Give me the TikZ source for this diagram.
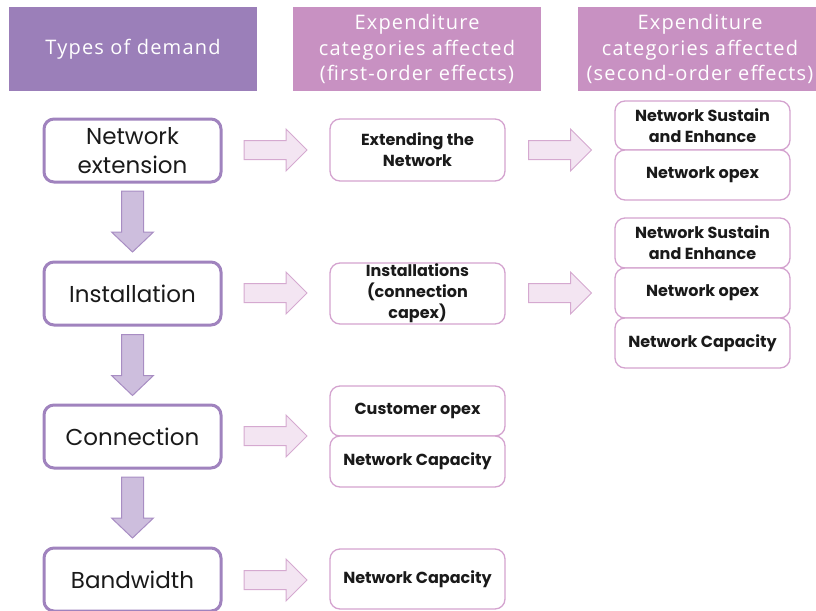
\documentclass[tikz,border=0pt]{standalone}
\usepackage{fontspec}
\setmainfont{Poppins}
\newfontfamily\hdrfont[LetterSpace=6]{Open Sans}

\definecolor{hdrA}{RGB}{155,127,185}
\definecolor{hdrB}{RGB}{200,145,194}
\definecolor{demandline}{RGB}{160,131,190}
\definecolor{catline}{RGB}{212,163,207}
\definecolor{downfill}{RGB}{205,190,221}
\definecolor{downline}{RGB}{168,141,195}
\definecolor{rightfill}{RGB}{243,229,242}
\definecolor{rightline}{RGB}{213,169,208}
\definecolor{ink}{RGB}{26,26,26}

\tikzset{
  hdr/.style={draw=none, minimum height=84pt, text=white, align=center,
    inner sep=0pt, font=\hdrfont\fontsize{20}{25.5}\selectfont},
  demand/.style={draw=demandline, line width=3pt, rounded corners=10pt, fill=white,
    minimum width=177pt, minimum height=63pt, align=center, inner sep=0pt,
    text=ink, font=\fontsize{23}{29}\selectfont},
  cat/.style={draw=catline, line width=1.3pt, rounded corners=10pt, fill=white,
    minimum width=175pt, align=center, inner sep=0pt,
    text=ink, font=\bfseries\fontsize{16}{21}\selectfont},
  % block arrow pointing right, drawn around the origin of the pic
  rarr/.pic={\draw[draw=rightline, fill=rightfill, line width=1pt, line join=miter]
    (-31.5,-9.5) -- (10.5,-9.5) -- (10.5,-21) -- (31.5,0) -- (10.5,21)
    -- (10.5,9.5) -- (-31.5,9.5) -- cycle;},
  % block arrow pointing down (y grows downwards in this picture)
  darr/.pic={\draw[draw=downline, fill=downfill, line width=1pt, line join=miter]
    (-11,-30.5) -- (11,-30.5) -- (11,10.5) -- (21,10.5) -- (0,30.5)
    -- (-21,10.5) -- (-11,10.5) -- cycle;},
}

\begin{document}
\begin{tikzpicture}[x=1pt,y=-1pt]
\useasboundingbox (0,0) rectangle (816,610);
\clip (0,0) rectangle (816,610);

% column headings
\node[hdr, fill=hdrA, minimum width=248pt] (h1) at (133,49) {Types of demand};
\node[hdr, fill=hdrB, minimum width=248pt] (h2) at (417,49)
  {Expenditure\\categories affected\\(first-order effects)};
\node[hdr, fill=hdrB, minimum width=244pt] (h3) at (700,49)
  {Expenditure\\categories affected\\(second-order effects)};

% types of demand
\node[demand] (d1) at (132.5,150.5) {Network\\extension};
\node[demand] (d2) at (132.5,293.5) {Installation};
\node[demand] (d3) at (132.5,436.5) {Connection};
\node[demand] (d4) at (132.5,579.5) {Bandwidth};

% flow between demand types
\coordinate (v1) at (132.5,221.5);
\coordinate (v2) at (132.5,365);
\coordinate (v3) at (132.5,507.5);
\foreach \c in {v1,v2,v3} \pic at (\c) {darr};

% first-order categories
\node[cat, minimum height=62pt] (c1) at (417.5,150) {Extending the\\Network};
\node[cat, minimum height=61pt] (c2) at (417.5,293.5) {Installations\\(connection\\capex)};
\node[cat, minimum height=50pt] (c3a) at (417.5,411) {Customer opex};
\node[cat, minimum height=51pt] (c3b) at (417.5,461.5) {Network Capacity};
\node[cat, minimum height=60pt] (c4) at (417.5,579) {Network Capacity};

% second-order categories
\node[cat, minimum height=49pt] (s1a) at (702.5,125.5) {Network Sustain\\and Enhance};
\node[cat, minimum height=50pt] (s1b) at (702.5,175) {Network opex};
\node[cat, minimum height=50pt] (s2a) at (702.5,243) {Network Sustain\\and Enhance};
\node[cat, minimum height=50pt] (s2b) at (702.5,293) {Network opex};
\node[cat, minimum height=50pt] (s2c) at (702.5,343) {Network Capacity};

% arrows to first-order categories
\coordinate (r1) at (275.5,150);
\coordinate (r2) at (275.5,293);
\coordinate (r3) at (275.5,436);
\coordinate (r4) at (275.5,580);
% arrows to second-order categories
\coordinate (q1) at (560,150);
\coordinate (q2) at (560,293);
\foreach \c in {r1,r2,r3,r4,q1,q2} \pic at (\c) {rarr};
\end{tikzpicture}
\end{document}
